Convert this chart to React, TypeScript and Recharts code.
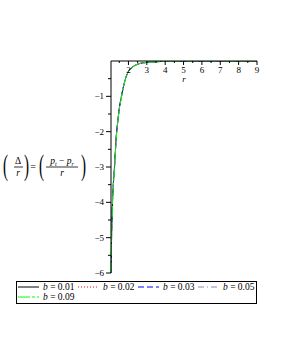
import { Line, LineChart, XAxis, YAxis } from "recharts";

// radius values and the five curves
const rValues = [1.06, 1.08, 1.1, 1.13, 1.18, 1.24, 1.3, 1.35, 1.42, 1.5, 1.62, 1.74, 1.85, 2, 2.25, 2.5, 3, 3.5, 4, 5, 6, 7, 8, 9];
const b001 = [-6.6, -5.0, -4.55, -4.0, -3.45, -3.0, -2.45, -2.05, -1.7, -1.35, -1.0, -0.7, -0.48, -0.3, -0.16, -0.09, -0.04, -0.02, -0.01, -0.003, 0, 0, 0, 0];
const b002 = [-6.6, -5.02, -4.56, -4.01, -3.46, -3.01, -2.46, -2.06, -1.7, -1.35, -1.0, -0.7, -0.48, -0.3, -0.16, -0.09, -0.04, -0.02, -0.01, -0.003, 0, 0, 0, 0];
const b003 = [-6.6, -5.03, -4.57, -4.02, -3.47, -3.02, -2.47, -2.06, -1.71, -1.36, -1.0, -0.7, -0.48, -0.3, -0.16, -0.09, -0.04, -0.02, -0.01, -0.003, 0, 0, 0, 0];
const b005 = [-6.6, -5.05, -4.59, -4.04, -3.49, -3.03, -2.48, -2.07, -1.71, -1.36, -1.01, -0.71, -0.48, -0.3, -0.16, -0.09, -0.04, -0.02, -0.01, -0.003, 0, 0, 0, 0];
const b009 = [-6.6, -5.1, -4.63, -4.08, -3.52, -3.06, -2.5, -2.09, -1.73, -1.37, -1.02, -0.71, -0.49, -0.3, -0.16, -0.09, -0.04, -0.02, -0.01, -0.003, 0, 0, 0, 0];

const xTicks = [1.5, 2, 2.5, 3, 3.5, 4, 4.5, 5, 5.5, 6, 6.5, 7, 7.5, 8, 8.5, 9];
const yTicks = [-6, -5.5, -5, -4.5, -4, -3.5, -3, -2.5, -2, -1.5, -1, -0.5];

const series = [
  { key: "b001", label: "0.01", values: b001, color: "#000000", dash: undefined },
  { key: "b002", label: "0.02", values: b002, color: "#ff0000", dash: "1 2" },
  { key: "b003", label: "0.03", values: b003, color: "#0000ff", dash: "6 3" },
  { key: "b005", label: "0.05", values: b005, color: "#9a88a6", dash: "6 3 1 3" },
  { key: "b009", label: "0.09", values: b009, color: "#00ff00", dash: "12 2 3 2" },
];

const data = rValues.map((r, i) => {
  const row: any = { r };
  series.forEach((s) => (row[s.key] = s.values[i]));
  return row;
});

const FONT = "'Liberation Serif', 'Times New Roman', serif";

const XTick = ({ x, y, payload }: any) => {
  const major = Number.isInteger(payload.value);
  return (
    <g>
      <line x1={x} x2={x} y1={y} y2={y + (major ? 4 : 2)} stroke="#000" />
      {major && (
        <text x={x} y={y + 12} textAnchor="middle" fontSize={9} fontFamily={FONT} fill="#000">
          {payload.value}
        </text>
      )}
    </g>
  );
};

const YTick = ({ x, y, payload }: any) => {
  const major = Number.isInteger(payload.value);
  return (
    <g>
      <line x1={x - (major ? 5 : 3)} x2={x} y1={y} y2={y} stroke="#000" />
      {major && (
        <text x={x - 7} y={y + 3} textAnchor="end" fontSize={9} fontFamily={FONT} fill="#000">
          {`\u2212${Math.abs(payload.value)}`}
        </text>
      )}
    </g>
  );
};

const XLabel = ({ viewBox }: any) => {
  const cx = viewBox ? viewBox.x + viewBox.width / 2 : 184;
  return (
    <text x={cx} y={82} textAnchor="middle" fontSize={9} fontStyle="italic" fontFamily={FONT} fill="#000">
      r
    </text>
  );
};

const Paren = ({ x, cy, ch }: any) => (
  <text transform={`translate(${x},${cy + 7.5}) scale(0.5,1)`} fontSize={30} fontFamily={FONT} fill="#000">
    {ch}
  </text>
);

const FormulaLabel = ({ viewBox }: any) => {
  const cy = viewBox ? viewBox.y + viewBox.height / 2 : 167;
  return (
    <g fontFamily={FONT} fill="#000">
      <Paren x={3} cy={cy} ch="(" />
      <text x={18} y={cy - 3} textAnchor="middle" fontSize={9.5}>Δ</text>
      <line x1={14} x2={23} y1={cy} y2={cy} stroke="#000" strokeWidth={0.8} />
      <text x={18} y={cy + 9} textAnchor="middle" fontSize={9.5} fontStyle="italic">r</text>
      <Paren x={24} cy={cy} ch=")" />
      <text x={33} y={cy + 3} textAnchor="middle" fontSize={10}>=</text>
      <Paren x={39} cy={cy} ch="(" />
      <text x={62} y={cy - 3} textAnchor="middle" fontSize={9.5}>
        <tspan fontStyle="italic">p</tspan>
        <tspan fontSize={6} dy={2} fontStyle="italic">t</tspan>
        <tspan dy={-2}> {"\u2212"} </tspan>
        <tspan fontStyle="italic">p</tspan>
        <tspan fontSize={6} dy={2} fontStyle="italic">r</tspan>
      </text>
      <line x1={46} x2={78} y1={cy} y2={cy} stroke="#000" strokeWidth={0.8} />
      <text x={62} y={cy + 9} textAnchor="middle" fontSize={9.5} fontStyle="italic">r</text>
      <Paren x={81} cy={cy} ch=")" />
    </g>
  );
};

const LegendBox = () => (
  <div
    style={{
      position: "absolute",
      left: 16,
      top: 281,
      width: 241,
      height: 23,
      boxSizing: "border-box",
      border: "1px solid #000",
      fontFamily: FONT,
      fontSize: 9.5,
    }}
  >
    {series.map((s, i) => (
      <div
        key={s.key}
        style={{
          position: "absolute",
          left: 1 + (i % 4) * 60,
          top: Math.floor(i / 4) * 10,
          height: 11,
          display: "flex",
          alignItems: "center",
          whiteSpace: "nowrap",
          lineHeight: "11px",
        }}
      >
        <svg width={21} height={11} style={{ display: "block" }}>
          <line x1={0} x2={21} y1={5} y2={5} stroke={s.color} strokeWidth={1} strokeDasharray={s.dash} />
        </svg>
        <span style={{ marginLeft: 4 }}>
          <i>b</i> = {s.label}
        </span>
      </div>
    ))}
  </div>
);

export default function App() {
  return (
    <div style={{ position: "absolute", left: 0, top: 0, width: 281, height: 363, background: "#fff" }}>
      <LineChart width={281} height={363} data={data} margin={{ top: 31, right: 24, bottom: 90, left: 0 }}>
        <XAxis
          dataKey="r"
          type="number"
          orientation="top"
          domain={[1.05, 9]}
          ticks={xTicks}
          interval={0}
          height={30}
          tickSize={0}
          tickMargin={0}
          tickLine={false}
          axisLine={{ stroke: "#000" }}
          tick={<XTick />}
          label={<XLabel />}
        />
        <YAxis
          type="number"
          domain={[-6, 0]}
          allowDataOverflow
          ticks={yTicks}
          interval={0}
          width={111}
          tickSize={0}
          tickMargin={0}
          tickLine={false}
          axisLine={{ stroke: "#000" }}
          tick={<YTick />}
          label={<FormulaLabel />}
        />
        {series.map((s) => (
          <Line
            key={s.key}
            dataKey={s.key}
            type="monotone"
            stroke={s.color}
            strokeWidth={1}
            strokeDasharray={s.dash}
            dot={false}
            activeDot={false}
            isAnimationActive={false}
          />
        ))}
      </LineChart>
      <LegendBox />
    </div>
  );
}
